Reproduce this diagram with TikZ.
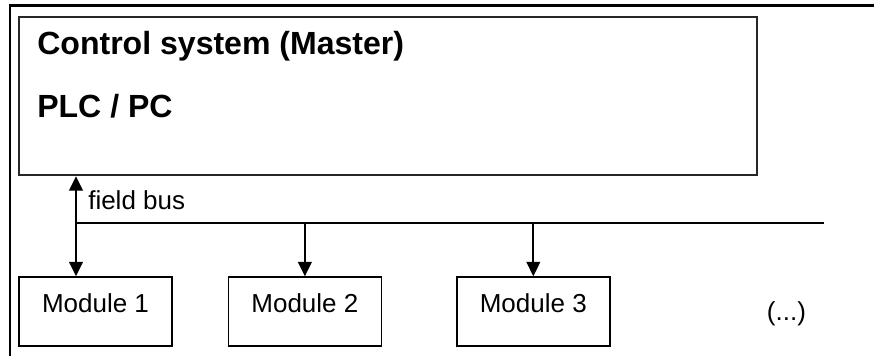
\documentclass[tikz,border=0pt]{standalone}
\usepackage{fontspec}
\setmainfont{Liberation Sans}
\usetikzlibrary{arrows.meta, positioning}

\begin{document}
\begin{tikzpicture}[
    node distance=1.4cm,
    master/.style={rectangle, draw=black!85, line width=1.7pt, minimum width=18.45cm, minimum height=3.95cm, inner sep=0pt},
    module/.style={rectangle, draw, line width=1pt, minimum width=3.825cm, minimum height=1.725cm, inner sep=0pt, text height=0.5cm, text depth=0.425cm, font=\fontsize{18.5}{22}\selectfont},
    heading/.style={anchor=base west, inner sep=0pt, font=\fontsize{22.8}{26}\selectfont\bfseries},
    caption/.style={inner sep=0pt, font=\fontsize{18.5}{22}\selectfont},
    arrow/.style={-{Triangle[length=0.36cm, width=0.34cm]}, line width=1.5pt},
    bus/.style={line width=1.5pt}
]
    \useasboundingbox (0,0) rectangle (21.85,8.9);
    \draw[line width=1.8pt] (0.25,0) |- (21.85,8.757);

    \node[master] (master) at (9.7,6.5) {};
    \node[heading] (title) at (0.925,7.525) {Control system (Master)};
    \node[heading] (plc) at (0.925,5.95) {PLC / PC};

    \node[module] (m1) at (2.3875,1.1125) {Module 1};
    \node[module, right=1.375cm of m1] (m2) {Module 2};
    \node[module, right=1.85cm of m2] (m3) {Module 3};
    \node[caption, anchor=base] (more) at (19.66,0.875) {(...)};

    \coordinate (busL) at (1.9,3.325);
    \coordinate (busR) at (20.6,3.325);
    \draw[bus] (busL) -- (busR);
    \node[caption, anchor=base west] (buslabel) at (2.2,3.65) {field bus};

    \draw[arrow, {Triangle[length=0.36cm, width=0.34cm]}-{Triangle[length=0.36cm, width=0.34cm]}] (busL |- m1.north) -- (busL |- master.south);
    \draw[arrow] (busL -| m2.north) -- (m2.north);
    \draw[arrow] (busL -| m3.north) -- (m3.north);
\end{tikzpicture}
\end{document}
